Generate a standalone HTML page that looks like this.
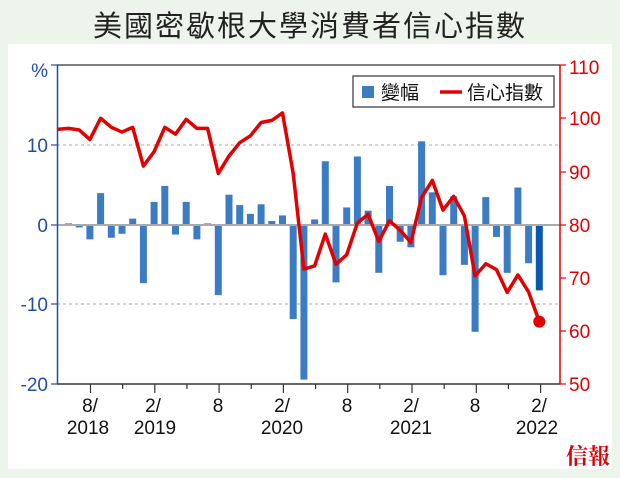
<!DOCTYPE html>
<html><head><meta charset="utf-8"><style>
html,body{margin:0;padding:0;background:#edf4eb;}
svg{display:block;font-family:"Liberation Sans","Noto Sans CJK TC",sans-serif;}
</style></head><body>
<svg width="620" height="478" viewBox="0 0 620 478" xmlns="http://www.w3.org/2000/svg">
<rect x="0" y="0" width="620" height="478" fill="#edf4eb"/>
<rect x="8" y="44" width="604" height="425" fill="#fff"/>
<text x="310" y="36" text-anchor="middle" font-size="29" fill="#222" font-family="'Noto Sans CJK TC',sans-serif" letter-spacing="2">美國密歇根大學消費者信心指數</text>
<line x1="57" y1="145" x2="560" y2="145" stroke="#aaa" stroke-dasharray="3,3"/>
<line x1="57" y1="304" x2="560" y2="304" stroke="#aaa" stroke-dasharray="3,3"/>
<line x1="57" y1="65" x2="560" y2="65" stroke="#555" stroke-width="1.5"/>
<g id="bars" fill="#3b7cc4"></g>
<line x1="57" y1="225" x2="560" y2="225" stroke="#aaa" stroke-width="2"/>
<polyline id="ln" fill="none" stroke="#e30000" stroke-width="3.5" stroke-linejoin="round"/>
<circle id="dot" r="6" fill="#e30000"/>
<line x1="57.5" y1="65" x2="57.5" y2="384" stroke="#1d4fa8" stroke-width="1.5"/>
<line x1="560" y1="65" x2="560" y2="384" stroke="#e30000" stroke-width="1.5"/>
<line x1="57" y1="384" x2="560" y2="384" stroke="#333" stroke-width="1.5"/>
<g stroke="#1d4fa8" stroke-width="1.2">
<line x1="51" y1="65" x2="57" y2="65"/><line x1="51" y1="145" x2="57" y2="145"/><line x1="51" y1="225" x2="57" y2="225"/><line x1="51" y1="304" x2="57" y2="304"/><line x1="51" y1="384" x2="57" y2="384"/></g>
<g stroke="#e30000" stroke-width="1.2">
<line x1="560" y1="65" x2="566" y2="65"/><line x1="560" y1="118" x2="566" y2="118"/><line x1="560" y1="172" x2="566" y2="172"/><line x1="560" y1="225" x2="566" y2="225"/><line x1="560" y1="278" x2="566" y2="278"/><line x1="560" y1="331" x2="566" y2="331"/><line x1="560" y1="384" x2="566" y2="384"/></g>
<g fill="#1d4fa8" font-size="19" text-anchor="end">
<text x="48" y="77">%</text><text x="48" y="152">10</text><text x="48" y="232">0</text><text x="48" y="311">-10</text><text x="48" y="391">-20</text></g>
<g fill="#e30000" font-size="19">
<text x="569" y="74">110</text><text x="569" y="125">100</text><text x="569" y="179">90</text><text x="569" y="232">80</text><text x="569" y="285">70</text><text x="569" y="338">60</text><text x="569" y="391">50</text></g>
<g id="ticks" stroke="#333" stroke-width="1.2"></g>
<g font-size="19" fill="#111" text-anchor="middle">
<text x="90" y="412">8/</text><text x="88" y="434">2018</text>
<text x="153" y="412">2/</text><text x="155" y="434">2019</text>
<text x="218" y="412">8</text>
<text x="282" y="412">2/</text><text x="282" y="434">2020</text>
<text x="347" y="412">8</text>
<text x="411" y="412">2/</text><text x="411" y="434">2021</text>
<text x="475" y="412">8</text>
<text x="539" y="412">2/</text><text x="537" y="434">2022</text>
</g>
<rect x="353" y="76" width="201" height="31" fill="#fff" stroke="#333" stroke-width="1.2"/>
<rect x="362" y="86" width="12" height="12" fill="#3b7cc4"/>
<text x="381" y="99" font-size="19" fill="#111" font-family="'Noto Sans CJK TC',sans-serif">變幅</text>
<line x1="440" y1="92" x2="462" y2="92" stroke="#e30000" stroke-width="3.5"/>
<text x="467" y="99" font-size="19" fill="#111" font-family="'Noto Sans CJK TC',sans-serif">信心指數</text>
<text x="610" y="464" text-anchor="end" font-size="22" font-weight="bold" fill="#d00" font-family="'Noto Serif CJK SC',serif">信報</text>
</svg>
<script>
var b=[0.2,-0.3,-1.8,4.0,-1.6,-1.1,0.8,-7.3,2.9,4.9,-1.2,2.9,-1.8,0.2,-8.8,3.8,2.5,1.4,2.6,0.5,1.2,-11.8,-19.4,0.7,8.0,-7.2,2.2,8.6,1.8,-6.0,4.9,-2.1,-2.8,10.5,4.1,-6.3,3.6,-5.0,-13.4,3.5,-1.5,-6.0,4.7,-4.8,-8.2];
var l=[98.2,97.9,96.1,100.1,98.4,97.5,98.4,91.1,93.8,98.4,97.1,99.9,98.2,98.2,89.7,93.0,95.5,96.8,99.3,99.7,101.1,89.7,71.7,72.3,78.3,72.6,74.4,80.4,82.0,76.9,80.8,79.0,76.7,85.2,88.4,82.8,85.4,81.7,70.4,72.7,71.6,67.3,70.6,67.4,61.8];
var ns="http://www.w3.org/2000/svg",g=document.getElementById('bars'),pts=["57,"+(225-(98.0-80)*5.31)];
for(var i=0;i<45;i++){var x=68.5+10.7*i,v=b[i],r=document.createElementNS(ns,'rect');
r.setAttribute('x',x-3.5);r.setAttribute('width',7);var y0=225,y1=225-v*7.97;
r.setAttribute('y',Math.min(y0,y1));r.setAttribute('height',Math.abs(y1-y0));
if(i==44)r.setAttribute('fill','#0a56b0');g.appendChild(r);
pts.push(x+","+(225-(l[i]-80)*5.31));}
document.getElementById('ln').setAttribute('points',pts.join(' '));
var d=document.getElementById('dot');d.setAttribute('cx',68.5+10.7*44);d.setAttribute('cy',225-(61.8-80)*5.31);
var t=document.getElementById('ticks');
for(var k=0;k<15;k++){var x=90.5+k*32.15,ln=document.createElementNS(ns,'line');ln.setAttribute('x1',x);ln.setAttribute('x2',x);ln.setAttribute('y1',384);ln.setAttribute('y2',k%2?389:393);t.appendChild(ln);}
</script>
</body></html>
